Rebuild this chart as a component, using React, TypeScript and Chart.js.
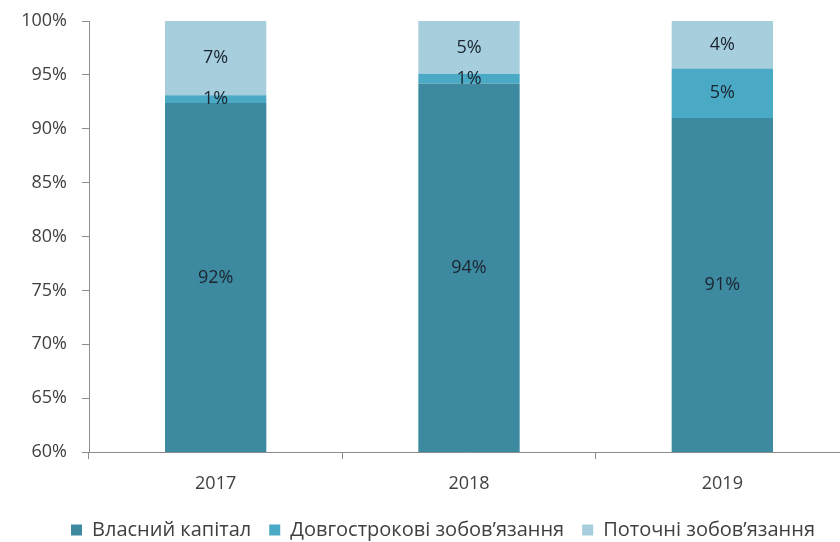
import React, { useEffect, useRef } from "react";
import { Chart, registerables } from "chart.js";

Chart.register(...registerables);

const categories = ["2017", "2018", "2019"];
const seriesNames = ["Власний капітал", "Довгострокові зобов’язання", "Поточні зобов’язання"];
const equity = [92.4, 94.2, 91.0];
const longTerm = [0.7, 0.9, 4.6];
const current = [6.9, 4.9, 4.4];
const colors = ["#3d8aa0", "#4aa9c5", "#a7cedd"];
const yTicks = [60, 65, 70, 75, 80, 85, 90, 95, 100];

const FONT = "'Open Sans', sans-serif";

const segmentLabels = {
  id: "segmentLabels",
  afterDatasetsDraw(chart: any) {
    const { ctx, chartArea } = chart;
    ctx.save();
    ctx.font = `18px ${FONT}`;
    ctx.fillStyle = "#1b2430";
    ctx.textAlign = "center";
    ctx.textBaseline = "middle";
    chart.data.datasets.forEach((ds: any, i: number) => {
      const meta = chart.getDatasetMeta(i);
      meta.data.forEach((el: any, j: number) => {
        const { x, y, base } = el.getProps(["x", "y", "base"], true);
        const top = Math.max(Math.min(y, base), chartArea.top);
        const bottom = Math.min(Math.max(y, base), chartArea.bottom);
        const cy = (top + bottom) / 2;
        ctx.fillText(Math.round(ds.data[j]) + "%", x, cy);
      });
    });
    ctx.restore();
  },
};

export default function App() {
  const ref = useRef<HTMLCanvasElement | null>(null);
  useEffect(() => {
    if (!ref.current) return;
    const chart = new Chart(ref.current, {
      type: "bar",
      data: {
        labels: categories,
        datasets: [
          { label: seriesNames[0], data: equity, backgroundColor: colors[0], borderWidth: 0 },
          { label: seriesNames[1], data: longTerm, backgroundColor: colors[1], borderWidth: 0 },
          { label: seriesNames[2], data: current, backgroundColor: colors[2], borderWidth: 0 },
        ],
      },
      options: {
        responsive: false,
        animation: false,
        devicePixelRatio: 1,
        categoryPercentage: 0.8,
        barPercentage: 0.5,
        layout: { padding: { left: 37, right: 11, top: 7, bottom: 10 } },
        plugins: {
          tooltip: { enabled: false },
          legend: {
            position: "bottom",
            labels: {
              boxWidth: 11,
              boxHeight: 11,
              padding: 18,
              color: "#404040",
              font: { family: FONT, size: 20 },
            },
          },
        },
        scales: {
          x: {
            stacked: true,
            grid: { display: true, drawOnChartArea: false, offset: true, tickLength: 7, color: "#8c8c8c" },
            border: { display: true, color: "#8c8c8c" },
            ticks: { color: "#404040", font: { family: FONT, size: 18 }, padding: 14 },
            afterFit: (s: any) => { s.height = 50; },
          },
          y: {
            stacked: true,
            min: 60,
            max: 100,
            afterBuildTicks: (s: any) => { s.ticks = yTicks.map((v) => ({ value: v })); },
            grid: { display: true, drawOnChartArea: false, tickLength: 7, color: "#8c8c8c" },
            border: { display: true, color: "#8c8c8c" },
            ticks: {
              color: "#404040",
              font: { family: FONT, size: 18, lineHeight: 0.67 },
              padding: 15,
              callback: (v: any) => v + "%",
            },
            afterFit: (s: any) => {
              s.width = 52;
              s._computeLabelArea = () => undefined;
            },
          },
        },
      },
      plugins: [segmentLabels],
    } as any);
    return () => chart.destroy();
  }, []);
  return (
    <div style={{ position: "absolute", left: 0, top: 0, width: 840, height: 542, overflow: "hidden", background: "#fff" }}>
      <canvas ref={ref} width={860} height={560} style={{ display: "block", width: 860, height: 560 }} />
    </div>
  );
}
